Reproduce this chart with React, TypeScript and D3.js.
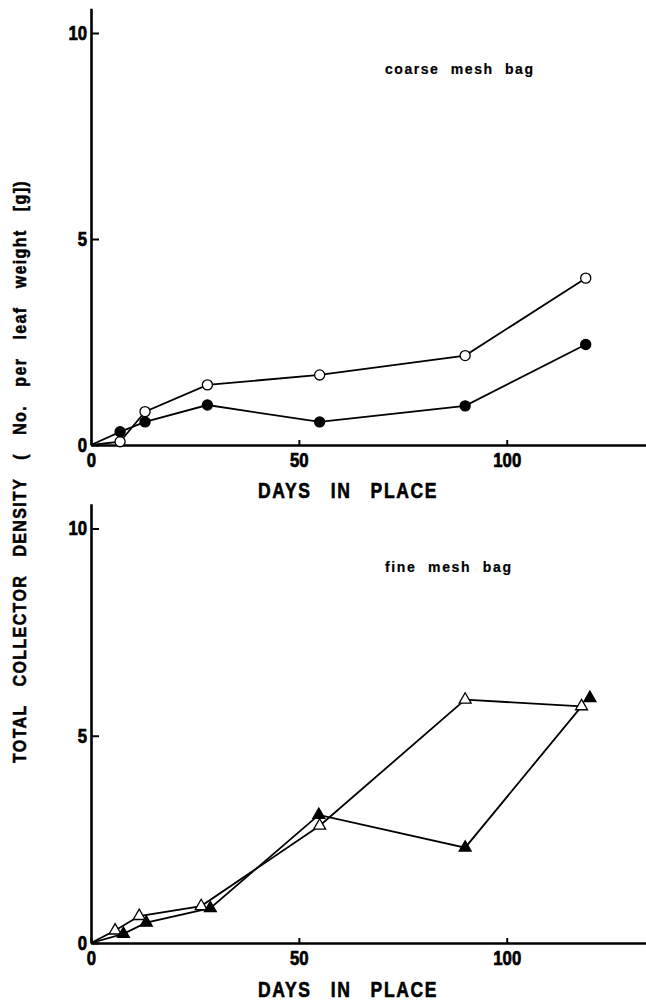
import React, { useEffect, useRef } from 'react';
import * as d3 from 'd3';

// ---- data ----
const xTicks = [0, 50, 100];
const yTicks = [0, 5, 10];

// coarse mesh bag
const coarseDays = [0, 7, 13, 28, 55, 90, 119];
const coarseOpen = [0, 0.08, 0.81, 1.46, 1.7, 2.17, 4.05];
const coarseFilled = [0, 0.32, 0.56, 0.97, 0.56, 0.95, 2.44];

// fine mesh bag
const fineOpenDays = [0, 5.8, 11.6, 26.5, 55, 90, 118];
const fineOpen = [0, 0.3, 0.65, 0.89, 2.83, 5.87, 5.71];
const fineFilledDays = [0, 7.8, 13.3, 28.7, 54.8, 90, 120];
const fineFilled = [0, 0.22, 0.49, 0.84, 3.09, 2.3, 5.91];

const xLabel = 'DAYS IN PLACE';
const yLabel = 'TOTAL COLLECTOR DENSITY ( No. per leaf weight [g])';
const panelTitles = ['coarse mesh bag', 'fine mesh bag'];

const FONT = "'Liberation Sans', Arial, Helvetica, sans-serif";

type Pt = [number, number];
const zip = (xs: number[], ys: number[]): Pt[] => xs.map((x, i) => [x, ys[i]]);

export default function App() {
  const ref = useRef<SVGSVGElement>(null);

  useEffect(() => {
    const svg = d3.select(ref.current);
    svg.selectAll('*').remove();

    const x = d3.scaleLinear().domain([0, 133.5]).range([91, 646]);

    const panels = [
      {
        y0: 445, y10: 33,
        title: panelTitles[0], titleX: 385, titleY: 74, titleW: 148, labelY: 498,
        series: [
          { line: zip(coarseDays, coarseOpen), marks: zip(coarseDays, coarseOpen).slice(1), kind: 'circle', filled: false },
          { line: zip(coarseDays, coarseFilled), marks: zip(coarseDays, coarseFilled).slice(1), kind: 'circle', filled: true },
        ],
      },
      {
        y0: 943, y10: 528.5,
        title: panelTitles[1], titleX: 385, titleY: 572, titleW: 126, labelY: 997,
        series: [
          { line: zip(fineOpenDays, fineOpen), marks: zip(fineOpenDays, fineOpen).slice(1), kind: 'triangle', filled: false },
          {
            // the filled line ends at the last open-triangle point as in the original
            line: zip(fineFilledDays, fineFilled).slice(0, -1).concat([zip(fineOpenDays, fineOpen)[fineOpen.length - 1]]),
            marks: zip(fineFilledDays, fineFilled).slice(1), kind: 'triangle', filled: true,
          },
        ],
      },
    ];

    panels.forEach((p) => {
      const unit = (p.y0 - p.y10) / 10;
      const yMax = 10.6;
      const y = d3.scaleLinear().domain([0, yMax]).range([p.y0, p.y0 - yMax * unit]);
      const g = svg.append('g');

      // axes
      const xAxis = d3.axisBottom(x).tickValues(xTicks).tickSizeInner(-5).tickSizeOuter(0).tickPadding(8).tickFormat(d3.format('d'));
      const yAxis = d3.axisLeft(y).tickValues(yTicks).tickSizeInner(-8).tickSizeOuter(0).tickPadding(4).tickFormat(d3.format('d'));

      const gx = g.append('g').attr('transform', `translate(0,${p.y0})`).call(xAxis);
      const gy = g.append('g').attr('transform', `translate(${x(0)},0)`).call(yAxis);
      [gx, gy].forEach((ax) => {
        ax.select('.domain').attr('stroke', '#000').attr('stroke-width', 2.6);
        ax.selectAll('.tick line').attr('stroke', '#000').attr('stroke-width', 2);
        ax.selectAll<SVGTextElement, number>('.tick text')
          .attr('fill', '#000')
          .attr('stroke', '#000')
          .attr('stroke-width', 0.7)
          .attr('textLength', (d) => String(d).length * 9.3)
          .attr('lengthAdjust', 'spacingAndGlyphs')
          .style('font-family', FONT)
          .style('font-weight', 'bold')
          .style('font-size', '20px');
      });

      // lines
      const line = d3.line<Pt>().x((d) => x(d[0])).y((d) => y(d[1]));
      p.series.forEach((s) => {
        g.append('path')
          .attr('d', line(s.line) as string)
          .attr('fill', 'none')
          .attr('stroke', '#000')
          .attr('stroke-width', 1.8);
      });

      // markers
      p.series.forEach((s) => {
        const sym = d3.symbol().type(s.kind === 'circle' ? d3.symbolCircle : d3.symbolTriangle).size(s.kind === 'circle' ? 80 : 62);
        g.selectAll(null)
          .data(s.marks)
          .enter()
          .append('path')
          .attr('d', sym() as string)
          .attr('transform', (d) => `translate(${x(d[0])},${y(d[1])})`)
          .attr('fill', s.filled ? '#000' : '#fff')
          .attr('stroke', '#000')
          .attr('stroke-width', 1.3);
      });

      // panel title
      g.append('text')
        .attr('x', p.titleX)
        .attr('y', p.titleY)
        .attr('textLength', p.titleW)
        .attr('lengthAdjust', 'spacing')
        .attr('stroke', '#000')
        .attr('stroke-width', 0.2)
        .text(p.title)
        .style('font-family', FONT)
        .style('font-weight', 'bold')
        .style('font-size', '14px')
        .style('word-spacing', '6px');

      // x label
      g.append('text')
        .attr('x', 258)
        .attr('y', p.labelY)
        .attr('textLength', 180)
        .attr('lengthAdjust', 'spacingAndGlyphs')
        .attr('stroke', '#000')
        .attr('stroke-width', 0.6)
        .text(xLabel)
        .style('font-family', FONT)
        .style('font-weight', 'bold')
        .style('font-size', '22px')
        .style('letter-spacing', '2px')
        .style('word-spacing', '16px');
    });

    // y label
    svg.append('text')
      .attr('transform', 'translate(26,763) rotate(-90)')
      .attr('textLength', 583)
      .attr('lengthAdjust', 'spacingAndGlyphs')
      .attr('stroke', '#000')
      .attr('stroke-width', 0.5)
      .text(yLabel)
      .style('font-family', FONT)
      .style('font-weight', 'bold')
      .style('font-size', '18px')
      .style('letter-spacing', '1.5px')
      .style('word-spacing', '14px');
  }, []);

  return (
    <svg
      ref={ref}
      width={646}
      height={1002}
      style={{ position: 'absolute', left: 0, top: 0, background: '#fff' }}
    />
  );
}
